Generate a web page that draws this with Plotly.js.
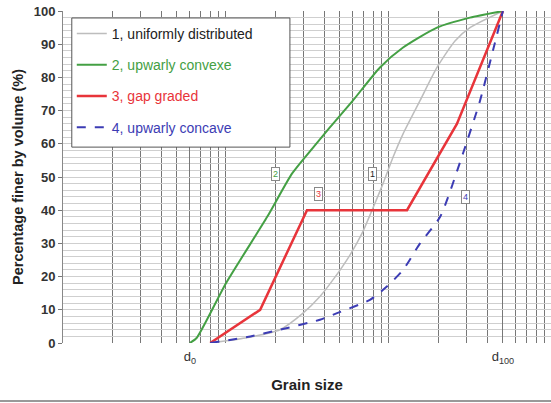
<!DOCTYPE html>
<html>
<head>
<meta charset="utf-8">
<script src="https://cdn.plot.ly/plotly-3.0.1.min.js"></script>
<style>html,body{margin:0;padding:0;background:#fff;}#chart{width:551px;height:403px;}</style>
</head>
<body>
<div id="chart"></div>
<script>
// Grain size values (log axis) and percentage finer by volume
const uniformX = [8, 13.1, 21.4, 29.7, 37.7, 45.3, 57.6, 68.3, 78.7, 91.9, 106, 122, 155, 197, 254, 314, 500];
const uniformY = [0, 1.5, 4, 9, 14, 19, 26.5, 33, 40, 48, 56, 63, 73, 83, 91, 95, 100];

const convexX = [6, 6.6, 10, 17.9, 25.4, 31.8, 43.5, 60, 88, 122, 197, 314, 500];
const convexY = [0, 1.5, 18, 38, 51, 57, 65, 73, 83, 89, 95, 98, 100];

const gapX = [8, 16.2, 31.4, 129, 261, 500];
const gapY = [0, 10, 40, 40, 66, 100];

const concaveX = [8, 13.5, 21.4, 37.7, 48, 76.4, 97, 122, 155, 206, 284, 362, 434, 500];
const concaveY = [0, 1.8, 4, 7, 9, 13, 17, 22, 30, 38, 57, 73, 88, 100];

const seriesNames = ['1, uniformly distributed', '2, upwarly convexe', '3, gap graded', '4, upwarly concave'];

// curve number labels
const labelText = ['2', '3', '1', '4'];
const labelSeries = [1, 2, 0, 3];
const labelX = [20, 36.7, 78.7, 293];
const labelY = [51, 45, 51, 44];

// x tick labels
const dTickVals = [6, 500];
const dTickText = ['d<sub>0</sub>', 'd<sub>100</sub>'];

const colors = ['#bdbdbd', '#44a044', '#e8343a', '#3c3cb4'];
const textColors = ['#222222', '#44a044', '#e8343a', '#3c3cb4'];

// gridline positions 1..9 per decade
const gridVals = [];
for (let d = 1; d <= 100; d *= 10) for (let k = 1; k <= 9; k++) gridVals.push(k * d);

const xs = [uniformX, convexX, gapX, concaveX];
const ys = [uniformY, convexY, gapY, concaveY];
const widths = [1.5, 2, 2.5, 2];
const dashes = ['solid', 'solid', 'solid', 'dash'];
const shapes = ['spline', 'spline', 'linear', 'spline'];

const traces = xs.map((x, i) => ({
  x: x, y: ys[i], type: 'scatter', mode: 'lines',
  name: '<span style="color:' + textColors[i] + '">' + seriesNames[i] + '</span>',
  legendgroup: 'g' + i,
  line: {color: colors[i], width: widths[i], dash: dashes[i], shape: shapes[i], smoothing: 0.6},
  hoverinfo: 'skip'
}));

const annotations = labelText.map((t, i) => ({
  x: Math.log10(labelX[i]), y: labelY[i], xref: 'x', yref: 'y',
  text: t, showarrow: false,
  font: {size: 9, color: textColors[labelSeries[i]]},
  bgcolor: '#ffffff', bordercolor: '#888888', borderwidth: 1, borderpad: 1
}));

const layout = {
  width: 551, height: 403,
  margin: {l: 63, r: 0, t: 11, b: 60},
  paper_bgcolor: '#ffffff', plot_bgcolor: '#ffffff',
  font: {family: 'Liberation Sans, Arial, sans-serif', color: '#222'},
  showlegend: true,
  legend: {
    x: 0.018, y: 0.979, xanchor: 'left', yanchor: 'top',
    bgcolor: 'rgba(0,0,0,0)', borderwidth: 0,
    font: {size: 14}, tracegroupgap: 10, traceorder: 'grouped',
    itemwidth: 30
  },
  xaxis: {
    type: 'log', range: [0, 2.994],
    tickmode: 'array', tickvals: dTickVals, ticktext: dTickText,
    showgrid: true, gridcolor: '#777777', gridwidth: 1,
    minor: {tickmode: 'array', tickvals: gridVals, showgrid: true, gridcolor: '#777777', gridwidth: 1, ticks: ''},
    ticks: '', tickfont: {size: 13, color: '#333'}, ticklabelstandoff: 4,
    showline: false, zeroline: false,
    title: {text: '<b>Grain size</b>', font: {size: 15, color: '#222'}, standoff: 14}
  },
  yaxis: {
    range: [0, 100], dtick: 10, tick0: 0,
    showgrid: true, gridcolor: '#cfcfcf', gridwidth: 1,
    minor: {dtick: 2, showgrid: true, gridcolor: '#cfcfcf', gridwidth: 1},
    ticks: 'outside', ticklen: 4, tickcolor: '#777',
    showline: true, linecolor: '#888', linewidth: 1,
    zeroline: false,
    tickfont: {size: 13, color: '#333', weight: 'bold'},
    title: {text: '<b>Percentage finer by volume (%)</b>', font: {size: 14.5, color: '#222'}, standoff: 6}
  },
  annotations: annotations,
  shapes: [{
    type: 'line', xref: 'paper', yref: 'paper',
    x0: -0.13, x1: 1, y0: -0.175, y1: -0.175,
    line: {color: '#999999', width: 2}
  }, {
    type: 'rect', xref: 'paper', yref: 'paper', layer: 'above',
    x0: 0.018, x1: 0.465, y0: 0.59, y1: 0.979,
    fillcolor: '#ffffff', line: {color: '#555555', width: 1}
  }]
};

Plotly.newPlot('chart', traces, layout, {displayModeBar: false, staticPlot: true});
</script>
</body>
</html>
